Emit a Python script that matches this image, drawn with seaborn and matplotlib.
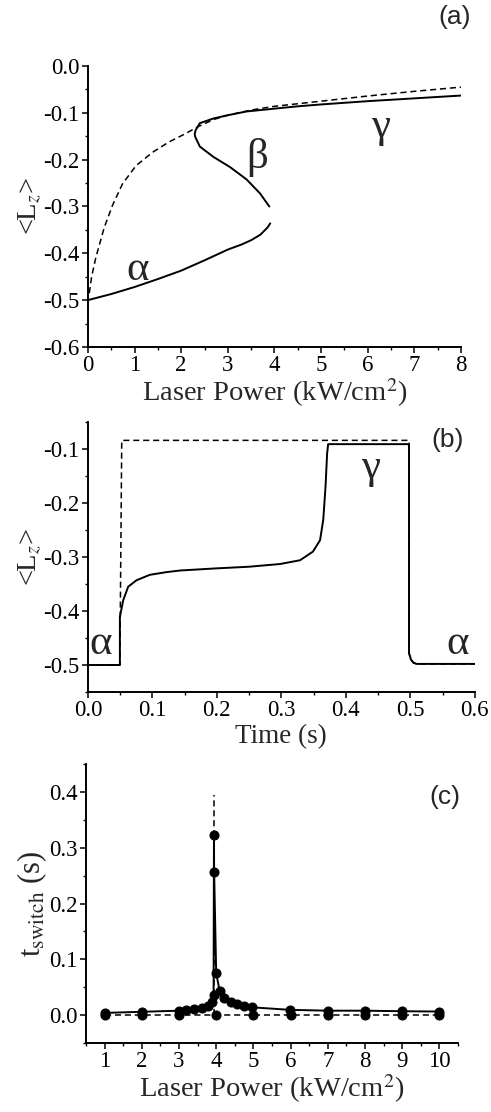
import numpy as np
import pandas as pd
import matplotlib
matplotlib.use('Agg')
import matplotlib.pyplot as plt
from matplotlib.ticker import MultipleLocator, AutoMinorLocator, FormatStrFormatter
import seaborn as sns

# Panel (a): steady-state <Lz> vs laser power
a_alpha_x = [0.0, 0.5, 1.0, 1.5, 2.0, 2.5, 3.0, 3.3, 3.5, 3.7, 3.85, 3.91]
a_alpha_y = [-0.5, -0.487, -0.472, -0.455, -0.437, -0.415, -0.392, -0.381, -0.372, -0.36, -0.345, -0.336]
a_beta_x = [3.89, 3.69, 3.40, 3.05, 2.69, 2.40, 2.30, 2.29, 2.31, 2.40, 2.69, 3.0, 3.4, 4.0, 4.5, 5.0,
            6.0, 7.0, 8.0]
a_beta_y = [-0.30, -0.272, -0.242, -0.216, -0.194, -0.172, -0.151, -0.145, -0.137, -0.122, -0.112, -0.105,
            -0.097, -0.091, -0.086, -0.082, -0.075, -0.069, -0.063]
a_dash_x = [0.03, 0.08, 0.17, 0.35, 0.53, 0.74, 1.03, 1.39, 1.74, 2.1, 2.35, 2.7, 3.0, 3.5, 4.0, 5.0, 6.0,
            7.0, 8.0]
a_dash_y = [-0.485, -0.45, -0.409, -0.345, -0.297, -0.252, -0.213, -0.184, -0.162, -0.144, -0.130, -0.114,
            -0.105, -0.094, -0.086, -0.075, -0.064, -0.054, -0.045]

# Panel (b): time trace
b_solid_t = [0.0, 0.0496, 0.0496, 0.0548, 0.0625, 0.0755, 0.096, 0.122, 0.143, 0.2, 0.25, 0.298, 0.329,
             0.349, 0.36, 0.365, 0.3685, 0.371, 0.3726, 0.498, 0.498, 0.501, 0.505, 0.51, 0.6]
b_solid_y = [-0.5, -0.5, -0.411, -0.380, -0.355, -0.343, -0.333, -0.328, -0.325, -0.321, -0.318, -0.313,
             -0.306, -0.290, -0.269, -0.231, -0.170, -0.108, -0.091, -0.091, -0.478, -0.49, -0.496,
             -0.498, -0.498]
b_dash_t = [0.0, 0.0496, 0.0525, 0.498, 0.498, 0.501, 0.505, 0.51, 0.6]
b_dash_y = [-0.5, -0.5, -0.084, -0.084, -0.478, -0.49, -0.496, -0.498, -0.498]

# Panel (c): switching time vs laser power
c_solid_x = [1, 2, 3, 3.2, 3.4, 3.62, 3.79, 3.88, 3.93, 3.94, 3.945, 4.0, 4.09, 4.21, 4.39, 4.57, 4.75,
             4.97, 5.98, 7, 8, 9, 10]
c_solid_y = [0.004, 0.006, 0.008, 0.010, 0.011, 0.0126, 0.017, 0.024, 0.036, 0.323, 0.256, 0.076, 0.044,
             0.030, 0.024, 0.020, 0.017, 0.014, 0.0095, 0.008, 0.008, 0.007, 0.0065]
c_dash_x = [1, 2, 3, 4, 5, 6, 7, 8, 9, 10]
c_dash_y = [0.001, 0.001, 0.001, 0.001, 0.001, 0.001, 0.001, 0.001, 0.001, 0.001]
c_asym_x = [3.95, 3.95]
c_asym_y = [0.0, 0.395]

sns.set_style('ticks')
plt.rcParams['font.family'] = ['Liberation Serif', 'DejaVu Serif']
plt.rcParams['mathtext.fontset'] = 'stix'
plt.rcParams['axes.unicode_minus'] = False
plt.rcParams['lines.dashed_pattern'] = (4, 2.5)

fig = plt.figure(figsize=(4.91, 11.12), dpi=100)
ax_a = fig.add_axes([0.179, 0.688, 0.760, 0.2526])
ax_b = fig.add_axes([0.179, 0.3777, 0.788, 0.2428])
ax_c = fig.add_axes([0.175, 0.062, 0.758, 0.251])

k = 'black'
tick_fs = 16.5
lab_fs = 20.5
greek_fs = 31

# (a)
sns.lineplot(x=a_alpha_x, y=a_alpha_y, sort=False, estimator=None, color=k, lw=1.4, ax=ax_a)
sns.lineplot(x=a_beta_x, y=a_beta_y, sort=False, estimator=None, color=k, lw=1.4, ax=ax_a)
sns.lineplot(x=a_dash_x, y=a_dash_y, sort=False, estimator=None, color=k, lw=1.1, ls='--', ax=ax_a)
ax_a.set_xlim(0, 8)
ax_a.set_ylim(-0.6, 0.0)
ax_a.xaxis.set_major_locator(MultipleLocator(1))
ax_a.yaxis.set_major_locator(MultipleLocator(0.1))
ax_a.yaxis.set_major_formatter(FormatStrFormatter('%.1f'))
ax_a.set_xlabel('Laser Power (kW/cm$^2$)', fontsize=lab_fs, labelpad=0)
ax_a.set_ylabel('<L$_z$>', fontsize=lab_fs, labelpad=0)
ax_a.text(1.07, -0.435, 'α', fontsize=greek_fs, ha='center', va='center')
ax_a.text(3.62, -0.195, 'β', fontsize=greek_fs, ha='center', va='center')
ax_a.text(6.27, -0.13, 'γ', fontsize=greek_fs, ha='center', va='center')

# (b)
sns.lineplot(x=b_solid_t, y=b_solid_y, sort=False, estimator=None, color=k, lw=1.4, ax=ax_b)
sns.lineplot(x=b_dash_t, y=b_dash_y, sort=False, estimator=None, color=k, lw=1.1, ls='--', ax=ax_b)
ax_b.set_xlim(0, 0.6)
ax_b.set_ylim(-0.55, -0.05)
ax_b.xaxis.set_major_locator(MultipleLocator(0.1))
ax_b.yaxis.set_major_locator(MultipleLocator(0.1))
ax_b.xaxis.set_major_formatter(FormatStrFormatter('%.1f'))
ax_b.yaxis.set_major_formatter(FormatStrFormatter('%.1f'))
ax_b.set_xlabel('Time (s)', fontsize=19.5, labelpad=2)
ax_b.set_ylabel('<L$_z$>', fontsize=lab_fs, labelpad=0)
ax_b.text(0.02, -0.46, 'α', fontsize=greek_fs, ha='center', va='center')
ax_b.text(0.573, -0.46, 'α', fontsize=greek_fs, ha='center', va='center')
ax_b.text(0.438, -0.135, 'γ', fontsize=greek_fs, ha='center', va='center')

# (c)
sns.lineplot(x=c_solid_x, y=c_solid_y, sort=False, estimator=None, color=k, lw=1.4,
             marker='o', markersize=6.5, markeredgecolor=k, ax=ax_c)
sns.lineplot(x=c_dash_x, y=c_dash_y, sort=False, estimator=None, color=k, lw=1.1, ls='--',
             marker='o', markersize=6.5, markeredgecolor=k, ax=ax_c)
sns.lineplot(x=c_asym_x, y=c_asym_y, sort=False, estimator=None, color=k, lw=1.1, ls='--', ax=ax_c)
ax_c.set_xlim(0.5, 10.5)
ax_c.set_ylim(-0.05, 0.45)
ax_c.xaxis.set_major_locator(MultipleLocator(1))
ax_c.yaxis.set_major_locator(MultipleLocator(0.1))
ax_c.yaxis.set_major_formatter(FormatStrFormatter('%.1f'))
ax_c.set_xlabel('Laser Power (kW/cm$^2$)', fontsize=lab_fs, labelpad=0)
ax_c.set_ylabel('t$_{\\rm switch}$ (s)', fontsize=22, labelpad=0)

for ax in (ax_a, ax_b, ax_c):
    sns.despine(ax=ax)
    for s in ('left', 'bottom'):
        ax.spines[s].set_linewidth(1.4)
        ax.spines[s].set_color(k)
    ax.xaxis.set_minor_locator(AutoMinorLocator(2))
    ax.yaxis.set_minor_locator(AutoMinorLocator(2))
    ax.tick_params(which='major', direction='out', length=4, width=1.1, colors=k, labelsize=tick_fs, pad=2)
    ax.tick_params(which='minor', direction='out', length=2.5, width=1.0, colors=k)

for lbl, (px, py) in zip(['(a)', '(b)', '(c)'], [(455, 17), (448, 440), (445, 797)]):
    fig.text(px / 491, 1 - py / 1112, lbl, fontsize=19, family=['Liberation Sans'], ha='center', va='center')

fig.savefig('out.png', dpi=100)
